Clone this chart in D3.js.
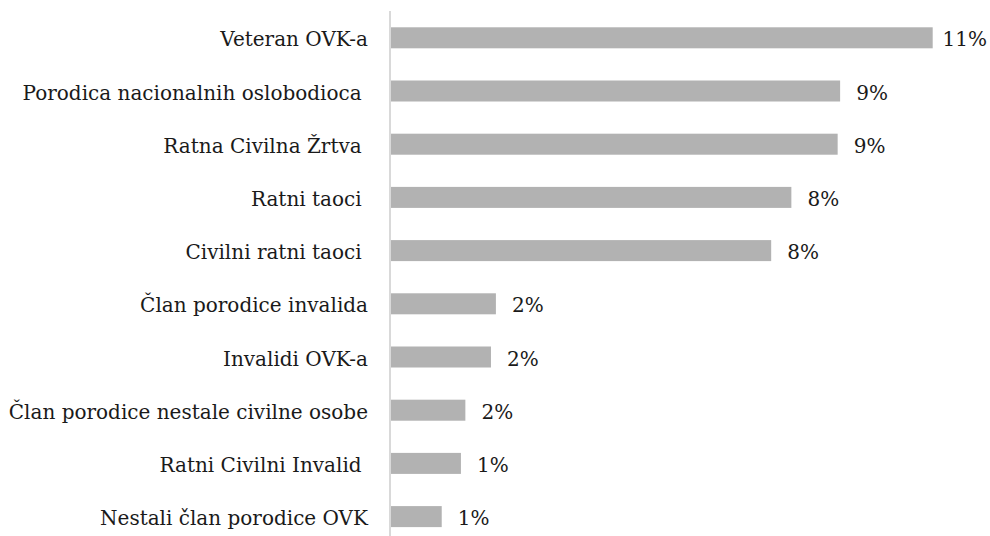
<!DOCTYPE html>
<html><head><meta charset="utf-8">
<script src="https://cdn.jsdelivr.net/npm/d3@7"></script>
<style>
html,body{margin:0;padding:0;background:#fff;}
svg text{white-space:pre;}
</style>
</head><body>
<svg id="chart" width="990" height="536"></svg>
<script>
const categories = [
  "Veteran OVK-a",
  "Porodica nacionalnih oslobodioca ",
  "Ratna Civilna Žrtva ",
  "Ratni taoci ",
  "Civilni ratni taoci ",
  "Član porodice invalida",
  "Invalidi OVK-a",
  "Član porodice nestale civilne osobe",
  "Ratni Civilni Invalid ",
  "Nestali član porodice OVK"
];
const values = [11.0, 9.12, 9.07, 8.13, 7.72, 2.13, 2.03, 1.51, 1.42, 1.03];
const valueLabels = ["11%", "9%", "9%", "8%", "8%", "2%", "2%", "2%", "1%", "1%"];

const svg = d3.select("#chart");
const font = "'DejaVu Serif', 'Liberation Serif', serif";
const fs = 20;

const x = d3.scaleLinear().domain([0, 11]).range([391, 932.7]);
const y = d3.scaleBand().domain(categories).range([11.2, 543.2])
  .paddingInner(0.605).paddingOuter(0.3025);

svg.selectAll("rect.bar").data(values).enter().append("rect")
  .attr("class", "bar")
  .attr("x", x(0))
  .attr("y", (d, i) => y(categories[i]))
  .attr("width", d => x(d) - x(0))
  .attr("height", y.bandwidth())
  .attr("fill", "#b2b2b2");

svg.append("line")
  .attr("x1", 390).attr("x2", 390)
  .attr("y1", 11).attr("y2", 536)
  .attr("stroke", "#d9d9d9").attr("stroke-width", 2);

svg.selectAll("text.cat").data(categories).enter().append("text")
  .attr("class", "cat")
  .attr("x", 368)
  .attr("y", d => y(d) + y.bandwidth() / 2 + 8.5)
  .attr("text-anchor", "end")
  .attr("font-family", font)
  .attr("font-size", fs)
  .attr("fill", "#1a1a1a")
  .text(d => d);

svg.selectAll("text.val").data(values).enter().append("text")
  .attr("class", "val")
  .attr("x", d => x(d) + 32)
  .attr("y", (d, i) => y(categories[i]) + y.bandwidth() / 2 + 8.5)
  .attr("text-anchor", "middle")
  .attr("font-family", font)
  .attr("font-size", fs)
  .attr("fill", "#1a1a1a")
  .text((d, i) => valueLabels[i]);
</script>
</body></html>
